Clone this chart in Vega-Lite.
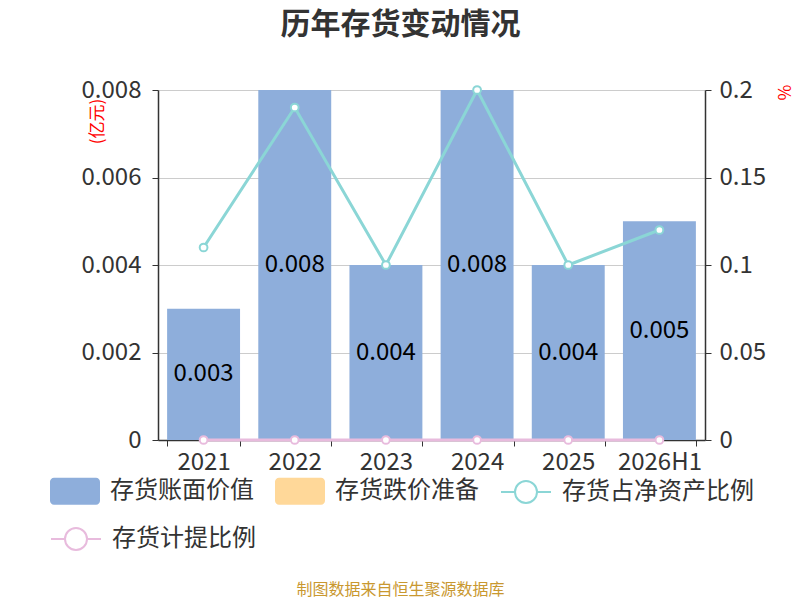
{
  "$schema": "https://vega.github.io/schema/vega-lite/v6.json",
  "width": 547,
  "height": 350,
  "autosize": "none",
  "padding": {"left": 158, "top": 90, "right": 95, "bottom": 160},
  "background": "white",
  "title": {
    "text": "历年存货变动情况",
    "fontSize": 30,
    "fontWeight": "bold",
    "color": "#333333",
    "anchor": "middle",
    "dx": -31,
    "offset": 38
  },
  "config": {
    "font": "Noto Sans CJK SC",
    "view": {"stroke": null},
    "axis": {"labelFont": "Noto Sans CJK SC", "titleFont": "Noto Sans CJK SC"},
    "legend": {
      "orient": "none",
      "direction": "horizontal",
      "title": null,
      "symbolSize": 2500,
      "labelFontSize": 24,
      "labelColor": "#333333",
      "labelOffset": 10,
      "labelLimit": 400,
      "columnPadding": 21,
      "rowPadding": 0
    }
  },
  "data": {
    "values": [
      {"年份": "2021", "存货账面价值": 0.003, "存货占净资产比例": 0.11, "存货计提比例": 0},
      {"年份": "2022", "存货账面价值": 0.008, "存货占净资产比例": 0.19, "存货计提比例": 0},
      {"年份": "2023", "存货账面价值": 0.004, "存货占净资产比例": 0.10, "存货计提比例": 0},
      {"年份": "2024", "存货账面价值": 0.008, "存货占净资产比例": 0.20, "存货计提比例": 0},
      {"年份": "2025", "存货账面价值": 0.004, "存货占净资产比例": 0.10, "存货计提比例": 0},
      {"年份": "2026H1", "存货账面价值": 0.005, "存货占净资产比例": 0.12, "存货计提比例": 0}
    ]
  },
  "encoding": {
    "x": {
      "field": "年份",
      "type": "nominal",
      "sort": null,
      "scale": {"paddingInner": 0.2, "paddingOuter": 0.1},
      "axis": {
        "labelAngle": 0,
        "labelFontSize": 24,
        "labelColor": "#333333",
        "labelPadding": 4,
        "domainColor": "#333333",
        "domainWidth": 1.5,
        "tickColor": "#333333",
        "tickSize": 6,
        "tickBand": "extent",
        "title": "制图数据来自恒生聚源数据库",
        "titleColor": "#c9982f",
        "titleFontSize": 16,
        "titleFontWeight": "normal",
        "titleX": 242,
        "titleY": 149,
        "titleAlign": "center",
        "titleBaseline": "middle"
      }
    }
  },
  "layer": [
    {
      "layer": [
        {
          "mark": {"type": "bar"},
          "encoding": {
            "y": {
              "field": "存货账面价值",
              "type": "quantitative",
              "scale": {"domain": [0, 0.008]},
              "axis": {
                "orient": "left",
                "values": [0, 0.002, 0.004, 0.006, 0.008],
                "format": "~g",
                "labelFontSize": 24,
                "labelColor": "#333333",
                "labelPadding": 11,
                "domainColor": "#333333",
                "domainWidth": 1.5,
                "tickColor": "#333333",
                "tickSize": 6,
                "grid": true,
                "gridColor": "#cccccc",
                "title": "(亿元)",
                "titleColor": "#ff0000",
                "titleFontSize": 17,
                "titleFontWeight": "normal",
                "titleAngle": -90,
                "titleX": -61,
                "titleY": 31,
                "titleAlign": "center",
                "titleBaseline": "middle"
              }
            },
            "fill": {
              "datum": "存货账面价值",
              "type": "nominal",
              "scale": {
                "domain": ["存货账面价值", "存货跌价准备"],
                "range": ["#8eaedb", "#ffd899"]
              },
              "legend": {
                "legendX": -108,
                "legendY": 376,
                "columns": 2,
                "symbolStrokeWidth": 0,
                "symbolType": "M-0.84,-0.54H0.84A0.16,0.16 0 0 1 1,-0.38V0.38A0.16,0.16 0 0 1 0.84,0.54H-0.84A0.16,0.16 0 0 1 -1,0.38V-0.38A0.16,0.16 0 0 1 -0.84,-0.54Z"
              }
            }
          }
        },
        {
          "mark": {"type": "text", "fontSize": 24, "color": "#000000", "baseline": "middle"},
          "encoding": {
            "y": {"field": "存货账面价值", "type": "quantitative", "stack": "zero", "bandPosition": 0.5},
            "text": {"field": "存货账面价值", "type": "quantitative", "format": ".3f"}
          }
        }
      ]
    },
    {
      "layer": [
        {
          "mark": {
            "type": "line",
            "strokeWidth": 3,
            "point": {"filled": false, "fill": "white", "size": 60, "strokeWidth": 2}
          },
          "encoding": {
            "y": {
              "field": "存货占净资产比例",
              "type": "quantitative",
              "scale": {"domain": [0, 0.2]},
              "axis": {
                "orient": "right",
                "values": [0, 0.05, 0.1, 0.15, 0.2],
                "format": "~g",
                "labelFontSize": 24,
                "labelColor": "#333333",
                "labelPadding": 8,
                "domainColor": "#333333",
                "domainWidth": 1.5,
                "tickColor": "#333333",
                "tickSize": 6,
                "grid": false,
                "title": "%",
                "titleColor": "#ff0000",
                "titleFontSize": 17,
                "titleFontWeight": "normal",
                "titleAngle": 90,
                "titleX": 77,
                "titleY": 2,
                "titleAlign": "center",
                "titleBaseline": "middle"
              }
            },
            "color": {
              "datum": "存货占净资产比例",
              "type": "nominal",
              "scale": {"domain": ["存货占净资产比例"], "range": ["#8bd6d6"]},
              "legend": {
                "legendX": 342,
                "legendY": 376,
                "symbolStrokeWidth": 2,
                "symbolType": "M-1,0H-0.44M0.44,0H1M0.44,0A0.44,0.44 0 1 1 -0.44,0A0.44,0.44 0 1 1 0.44,0"
              }
            }
          }
        },
        {
          "mark": {
            "type": "line",
            "strokeWidth": 3,
            "point": {"filled": false, "fill": "white", "size": 60, "strokeWidth": 2}
          },
          "encoding": {
            "y": {"field": "存货计提比例", "type": "quantitative"},
            "stroke": {
              "datum": "存货计提比例",
              "type": "nominal",
              "scale": {"domain": ["存货计提比例"], "range": ["#e8bbdd"]},
              "legend": {
                "legendX": -108,
                "legendY": 423,
                "symbolStrokeWidth": 2,
                "symbolType": "M-1,0H-0.44M0.44,0H1M0.44,0A0.44,0.44 0 1 1 -0.44,0A0.44,0.44 0 1 1 0.44,0"
              }
            }
          }
        }
      ]
    }
  ],
  "resolve": {"scale": {"y": "independent"}}
}
